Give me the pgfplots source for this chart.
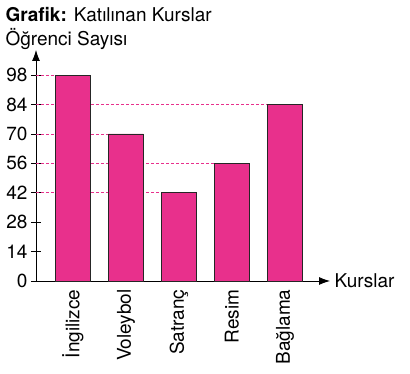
\documentclass[border=0pt]{standalone}
\usepackage{pgfplots}
\pgfplotsset{compat=1.18}
\usepackage{fontspec}
\setmainfont{TeX Gyre Heros}
\usetikzlibrary{arrows.meta}
\definecolor{barpink}{RGB}{232,48,140}
\begin{document}
\begin{tikzpicture}
\useasboundingbox (-36pt,-93pt) rectangle (374pt,281pt);
\begin{axis}[
 scale only axis, width=294pt, height=231pt,
 xmin=-0.698, xmax=4.85, ymin=0, ymax=110,
 axis lines=left, clip=false,
 axis line style={line width=0.8pt, -{Latex[length=11pt,width=8pt]}},
 xtick={0,1,2,3,4},
 xticklabels={İngilizce,Voleybol,Satranç,Resim,Bağlama},
 x tick label style={rotate=90, anchor=east, font=\fontsize{19}{19}\selectfont},
 y tick label style={font=\fontsize{19}{19}\selectfont},
 /pgf/number format/assume math mode=true,
 ytick={0,14,28,42,56,70,84,98},
 tick align=center, major tick length=10pt,
 major x tick style={draw=none},
 y tick style={black, line width=0.8pt},
]
\addplot[barpink, line width=0.8pt, dash pattern=on 3pt off 2pt, forget plot] coordinates {(-0.698,98) (0,98)};
\addplot[barpink, line width=0.8pt, dash pattern=on 3pt off 2pt, forget plot] coordinates {(-0.698,84) (4,84)};
\addplot[barpink, line width=0.8pt, dash pattern=on 3pt off 2pt, forget plot] coordinates {(-0.698,70) (1,70)};
\addplot[barpink, line width=0.8pt, dash pattern=on 3pt off 2pt, forget plot] coordinates {(-0.698,56) (3,56)};
\addplot[barpink, line width=0.8pt, dash pattern=on 3pt off 2pt, forget plot] coordinates {(-0.698,42) (2,42)};
\addplot[ybar, fill=barpink, draw=black!85, line width=0.6pt, bar width=0.66] coordinates {(0,98) (1,70) (2,42) (3,56) (4,84)};
\node[anchor=base west, font=\fontsize{19}{19}\selectfont] at (rel axis cs:0,1) [xshift=-34pt, yshift=28pt] {\textbf{Grafik:} Katılınan Kurslar};
\node[anchor=base west, font=\fontsize{19}{19}\selectfont] at (rel axis cs:0,1) [xshift=-34pt, yshift=4pt] {Öğrenci Sayısı};
\node[anchor=west, font=\fontsize{19}{19}\selectfont] at (rel axis cs:1,0) [xshift=1pt] {Kurslar};
\end{axis}
\end{tikzpicture}
\end{document}
